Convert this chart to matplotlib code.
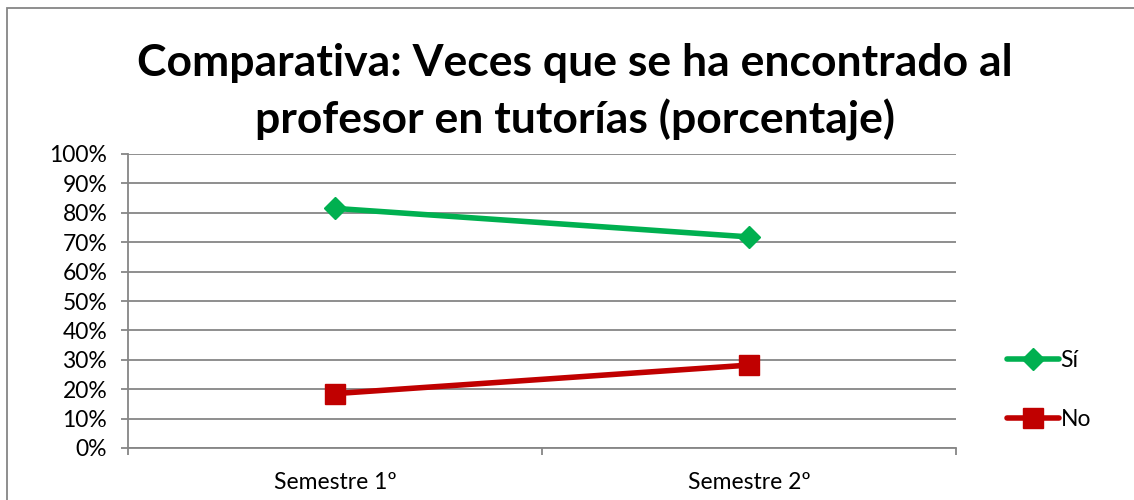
import matplotlib.pyplot as plt
from matplotlib.patches import Rectangle
from matplotlib.ticker import FuncFormatter

categories = ["Semestre 1º", "Semestre 2º"]
si_values = [81.5, 71.8]
no_values = [18.5, 28.2]
yticks = list(range(0, 101, 10))

plt.rcParams['font.family'] = ['Lato', 'DejaVu Sans']

fig = plt.figure(figsize=(11.34, 5.0), dpi=100)
W, H = 1134, 500
# plot area in pixels: left 128, right 956, top 154, bottom 448
ax = fig.add_axes([128 / W, 1 - 448 / H, (956 - 128) / W, (448 - 154) / H])

# chart border
fig.patches.append(Rectangle((7 / W, -0.1), 1.2, 1 - 8 / H + 0.1, transform=fig.transFigure,
                             fill=False, edgecolor="#868686", linewidth=1.3))

x = [0.5, 1.5]
ax.plot(x, si_values, color="#00b050", linewidth=4, marker="D", markersize=11,
        label="Sí", solid_capstyle="round")
ax.plot(x, no_values, color="#c00000", linewidth=4, marker="s", markersize=14,
        label="No", solid_capstyle="round")

ax.set_xlim(0, 2)
ax.set_ylim(0, 100)
ax.set_yticks(yticks)
ax.yaxis.set_major_formatter(FuncFormatter(lambda v, p: f"{int(v)}%"))
ax.set_xticks([0, 1, 2])
ax.set_xticklabels([])
ax.set_xticks(x, minor=True)
ax.set_xticklabels(categories, minor=True)
ax.tick_params(axis="x", which="minor", length=0, pad=17, labelsize=16.5)
ax.tick_params(axis="x", which="major", length=5, color="#868686", width=1.3)
ax.tick_params(axis="y", length=5, color="#868686", width=1.3, labelsize=16.5, pad=10)
ax.grid(axis="y", color="#868686", linewidth=1.3)
ax.set_axisbelow(True)
for s in ["top", "right"]:
    ax.spines[s].set_visible(False)
ax.spines["left"].set_color("#868686")
ax.spines["bottom"].set_color("#868686")
ax.spines["left"].set_linewidth(1.3)
ax.spines["bottom"].set_linewidth(1.3)

fig.text(575 / W, 1 - 92 / H, "Comparativa: Veces que se ha encontrado al\nprofesor en tutorías (porcentaje)",
         ha="center", va="center", fontsize=32, fontweight="bold", linespacing=1.45)

fig.legend(loc="center left", bbox_to_anchor=(986 / W, 1 - 390 / H), frameon=False,
           fontsize=16.5, handlelength=2.3, handletextpad=0.05, labelspacing=1.65)

fig.savefig("out.png", dpi=100)
